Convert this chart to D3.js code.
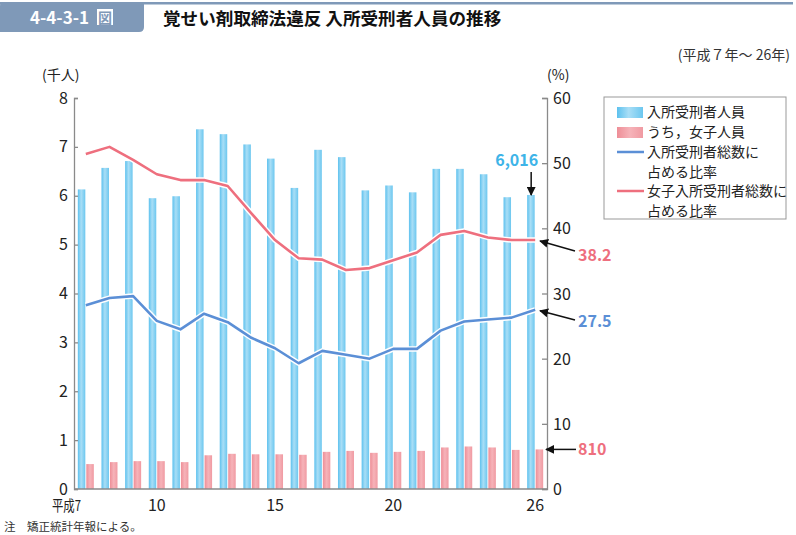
<!DOCTYPE html>
<html>
<head>
<meta charset="utf-8">
<script src="https://cdn.jsdelivr.net/npm/d3@7"></script>
<style>
  body { margin: 0; background: #fff; }
  svg { font-family: "Noto Sans CJK JP", "Noto Sans", sans-serif; }
</style>
</head>
<body>
<svg id="chart" width="796" height="535"></svg>
<script>
// data (平成7年～26年)
const years = [7, 8, 9, 10, 11, 12, 13, 14, 15, 16, 17, 18, 19, 20, 21, 22, 23, 24, 25, 26];
const inmates = [6.13, 6.57, 6.71, 5.95, 5.99, 7.36, 7.26, 7.05, 6.76, 6.16, 6.94, 6.79, 6.11, 6.21, 6.07, 6.55, 6.55, 6.44, 5.97, 6.016];
const female = [0.51, 0.55, 0.57, 0.57, 0.55, 0.69, 0.72, 0.71, 0.71, 0.70, 0.76, 0.78, 0.74, 0.76, 0.78, 0.85, 0.87, 0.85, 0.80, 0.81];
const shareAll = [28.2, 29.3, 29.6, 25.8, 24.5, 26.9, 25.6, 23.2, 21.6, 19.3, 21.2, 20.6, 20.0, 21.5, 21.5, 24.3, 25.7, 26.0, 26.3, 27.5];
const shareFemale = [51.4, 52.5, 50.5, 48.3, 47.4, 47.4, 46.5, 42.3, 38.2, 35.4, 35.2, 33.6, 33.9, 35.1, 36.3, 39.0, 39.6, 38.6, 38.2, 38.2];
const leftTicks = [0, 1, 2, 3, 4, 5, 6, 7, 8];
const rightTicks = [0, 10, 20, 30, 40, 50, 60];
const xLabels = { 7: '平成7', 10: '10', 15: '15', 20: '20', 26: '26' };

const svg = d3.select('#chart');
const axisColor = '#8a8a8a';
const blueLine = '#5b8fd6';
const pinkLine = '#ee6f7e';

// header
const hdr = '#7f99b8';
svg.append('rect').attr('x', 0).attr('y', 2).attr('width', 793).attr('height', 2.5).attr('fill', hdr);
svg.append('path')
  .attr('d', 'M0,6 Q0,2 4,2 L144,2 L144,27 Q144,32 139,32 L0,32 Z')
  .attr('fill', hdr);
svg.append('text').attr('x', 30).attr('y', 24)
  .attr('fill', '#fff').attr('font-size', 17).attr('font-weight', 'bold')
  .text('4-4-3-1');
svg.append('rect').attr('x', 97).attr('y', 9).attr('width', 16).attr('height', 16).attr('fill', '#fff');
svg.append('text').attr('x', 105).attr('y', 23).attr('text-anchor', 'middle')
  .attr('fill', hdr).attr('font-size', 14).attr('font-weight', 'bold').text('図');
svg.append('text').attr('x', 163).attr('y', 25)
  .attr('fill', '#111').attr('font-size', 17.6).attr('font-weight', 'bold')
  .text('覚せい剤取締法違反 入所受刑者人員の推移');
svg.append('text').attr('x', 790).attr('y', 60).attr('text-anchor', 'end')
  .attr('fill', '#333').attr('font-size', 14).text('(平成７年～ 26年)');

// scales
const x = d3.scaleBand().domain(years).range([74, 547]);
const cx = d => x(d) + x.bandwidth() / 2;
const yL = d3.scaleLinear().domain([0, 8]).range([489, 98]);
const yR = d3.scaleLinear().domain([0, 60]).range([489, 98]);

// gradients
const defs = svg.append('defs');
const grad = (id, stops) => {
  const g = defs.append('linearGradient').attr('id', id).attr('x1', '0%').attr('x2', '100%');
  stops.forEach(([o, c]) => g.append('stop').attr('offset', o).attr('stop-color', c));
};
grad('gBlue', [['0%', '#5dc1ee'], ['45%', '#a9def6'], ['100%', '#6cc7ef']]);
grad('gPink', [['0%', '#ee8e97'], ['50%', '#f6b3b9'], ['100%', '#f09aa2']]);

// bars
svg.append('g').selectAll('rect').data(years).join('rect')
  .attr('x', d => cx(d) - 8).attr('width', 7.5)
  .attr('y', (d, i) => yL(inmates[i])).attr('height', (d, i) => yL(0) - yL(inmates[i]))
  .attr('fill', 'url(#gBlue)');
svg.append('g').selectAll('rect').data(years).join('rect')
  .attr('x', d => cx(d) + 0.5).attr('width', 7.5)
  .attr('y', (d, i) => yL(female[i])).attr('height', (d, i) => yL(0) - yL(female[i]))
  .attr('fill', 'url(#gPink)');

// lines with white halo
const drawLine = (vals, color) => {
  const line = d3.line().x((d, i) => cx(years[i])).y(d => yR(d));
  svg.append('path').datum(vals).attr('d', line)
    .attr('fill', 'none').attr('stroke', '#fff').attr('stroke-width', 5.5).attr('stroke-linejoin', 'round');
  svg.append('path').datum(vals).attr('d', line)
    .attr('fill', 'none').attr('stroke', color).attr('stroke-width', 2.6).attr('stroke-linejoin', 'round');
};
drawLine(shareFemale, pinkLine);
drawLine(shareAll, blueLine);

// axes
const leftAxis = svg.append('g').attr('transform', 'translate(74,0)')
  .call(d3.axisRight(yL).tickValues(leftTicks).tickSize(4).tickFormat(''));
const rightAxis = svg.append('g').attr('transform', 'translate(547,0)')
  .call(d3.axisLeft(yR).tickValues(rightTicks).tickSize(5).tickFormat(''));
[leftAxis, rightAxis].forEach(a => {
  a.select('.domain').attr('stroke', axisColor).attr('stroke-width', 1.3);
  a.selectAll('.tick line').attr('stroke', axisColor).attr('stroke-width', 1.3);
});
svg.append('line').attr('x1', 74).attr('x2', 547).attr('y1', 489).attr('y2', 489)
  .attr('stroke', axisColor).attr('stroke-width', 1.5);

svg.append('g').selectAll('text').data(leftTicks).join('text')
  .attr('x', 68).attr('y', d => yL(d) + 5.5).attr('text-anchor', 'end')
  .attr('font-size', 16).attr('fill', '#222').text(d => d);
svg.append('g').selectAll('text').data(rightTicks).join('text')
  .attr('x', 553).attr('y', d => yR(d) + 6)
  .attr('font-size', 16).attr('fill', '#222').text(d => d);
const xl = svg.append('g').selectAll('text').data(years.filter(d => xLabels[d])).join('text')
  .attr('x', d => d === 7 ? 52 : cx(d)).attr('y', 511)
  .attr('text-anchor', d => d === 7 ? 'start' : 'middle')
  .attr('font-size', 16).attr('fill', '#222').text(d => xLabels[d]);
xl.filter(d => d === 7).attr('font-size', 15).attr('textLength', 29).attr('lengthAdjust', 'spacingAndGlyphs');

svg.append('text').attr('x', 42).attr('y', 80).attr('font-size', 14).attr('fill', '#222').text('(千人)');
svg.append('text').attr('x', 547).attr('y', 80).attr('font-size', 14).attr('fill', '#222').text('(%)');

// annotations
const last = years.length - 1;
defs.append('marker').attr('id', 'arr').attr('viewBox', '0 0 10 10')
  .attr('refX', 9).attr('refY', 5).attr('markerWidth', 9).attr('markerHeight', 9)
  .attr('orient', 'auto-start-reverse').attr('markerUnits', 'userSpaceOnUse')
  .append('path').attr('d', 'M0,0 L10,5 L0,10 Z').attr('fill', '#111');
const arrow = (x1, y1, x2, y2) => svg.append('line')
  .attr('x1', x1).attr('y1', y1).attr('x2', x2).attr('y2', y2)
  .attr('stroke', '#111').attr('stroke-width', 1.5).attr('marker-end', 'url(#arr)');

const cLast = cx(years[last]);
arrow(cLast - 4, 172, cLast - 4, 195);
svg.append('text').attr('x', cLast + 3).attr('y', 166).attr('text-anchor', 'end')
  .attr('font-size', 16).attr('font-weight', 'bold').attr('fill', '#3eb4e8')
  .text(d3.format(',')(Math.round(inmates[last] * 1000)));

arrow(575, 251, 540, yR(shareFemale[last]) + 1);
svg.append('text').attr('x', 578).attr('y', 261).attr('font-size', 16).attr('font-weight', 'bold')
  .attr('fill', pinkLine).text(shareFemale[last].toFixed(1));

arrow(575, 320, 540, yR(shareAll[last]) + 1);
svg.append('text').attr('x', 578).attr('y', 327).attr('font-size', 16).attr('font-weight', 'bold')
  .attr('fill', blueLine).text(shareAll[last].toFixed(1));

arrow(576, yL(female[last]), 546, yL(female[last]));
svg.append('text').attr('x', 578).attr('y', yL(female[last]) + 6).attr('font-size', 16).attr('font-weight', 'bold')
  .attr('fill', pinkLine).text(Math.round(female[last] * 1000));

// legend
const lg = svg.append('g').attr('transform', 'translate(604,97)');
lg.append('rect').attr('width', 182).attr('height', 122).attr('fill', '#fff')
  .attr('stroke', '#999').attr('stroke-width', 1);
const legendItems = [
  { type: 'bar', fill: 'url(#gBlue)', lines: ['入所受刑者人員'], y: 15 },
  { type: 'bar', fill: 'url(#gPink)', lines: ['うち，女子人員'], y: 35 },
  { type: 'line', fill: blueLine, lines: ['入所受刑者総数に', '占める比率'], y: 55 },
  { type: 'line', fill: pinkLine, lines: ['女子入所受刑者総数に', '占める比率'], y: 94 }
];
legendItems.forEach(it => {
  if (it.type === 'bar') {
    lg.append('rect').attr('x', 13).attr('y', it.y - 5).attr('width', 26).attr('height', 11).attr('fill', it.fill);
  } else {
    lg.append('line').attr('x1', 13).attr('x2', 40).attr('y1', it.y).attr('y2', it.y)
      .attr('stroke', it.fill).attr('stroke-width', 2.5);
  }
  it.lines.forEach((t, k) => lg.append('text').attr('x', 43).attr('y', it.y + 5 + k * 20)
    .attr('font-size', 14).attr('fill', '#222').text(t));
});

// note
svg.append('text').attr('x', 4).attr('y', 531).attr('font-size', 11.5).attr('fill', '#333')
  .text('注　矯正統計年報による。');
</script>
</body>
</html>
